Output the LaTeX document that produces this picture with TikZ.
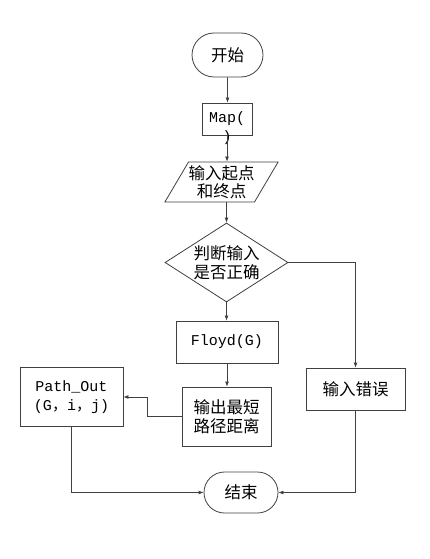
\documentclass[tikz,border=0pt]{standalone}
\usepackage{fontspec}
\setmonofont{Liberation Mono}
\newfontfamily\zhfont{Noto Sans CJK SC}
\usetikzlibrary{arrows.meta, shapes.geometric, shapes.misc}
\newcommand{\zhcomma}{{\zhfont ，}}

\begin{document}
\begin{tikzpicture}[x=1pt, y=-1pt,
		line width=0.8pt, draw=black!75,
		box/.style={draw=black!75, fill=white, rectangle, inner sep=0pt, align=center, font=\fontsize{15}{19}\selectfont},
		term/.style={draw=black!75, rounded rectangle, inner sep=0pt, font=\fontsize{16.5}{19}\selectfont\zhfont},
		flow/.style={draw=black!75, -{Latex[length=5pt, width=4pt]}}]
		\useasboundingbox (0, 0) rectangle (430, 559);
		\node[term, minimum width=71pt, minimum height=44pt] (start) at (227.5, 55) {开始};
		\node[box, minimum width=50pt, minimum height=32pt, font=\fontsize{15}{19}\selectfont\ttfamily,
			label={[inner sep=0pt, anchor=center, label distance=2pt, font=\fontsize{15}{19}\selectfont\ttfamily]below:)}] (map) at (227, 119) {Map(};
		\node[box, trapezium, trapezium left angle=55, trapezium right angle=125, trapezium stretches=true,
			minimum width=113pt, minimum height=40pt, font=\fontsize{16.5}{18.5}\selectfont\zhfont] (input) at (221.5, 182) {输入起点\\和终点};
		\node[box, diamond, aspect=1.6, minimum width=123pt, minimum height=79pt, font=\fontsize{16.5}{19}\selectfont\zhfont] (judge) at (226.5, 262.5) {判断输入\\是否正确};
		\node[box, minimum width=102pt, minimum height=42pt, font=\fontsize{15}{19}\selectfont\ttfamily] (floyd) at (227, 342) {Floyd(G)};
		\node[box, minimum width=89pt, minimum height=59pt, font=\fontsize{16.5}{19.5}\selectfont\zhfont] (outp) at (226.5, 416.5) {输出最短\\路径距离};
		\node[box, minimum width=103pt, minimum height=59pt, font=\fontsize{15}{19}\selectfont\ttfamily] (path) at (71.5, 397) {Path\_Out\\(G\zhcomma i\zhcomma j)};
		\node[box, minimum width=99pt, minimum height=42pt, font=\fontsize{16.5}{19}\selectfont\zhfont] (err) at (355.5, 389) {输入错误};
		\node[term, minimum width=74pt, minimum height=41pt] (end) at (241, 492.5) {结束};
		\draw[flow] (start) -- (start |- map.north);
		\draw[flow] (map.south) -- (map.south |- input.north);
		\draw[flow] (judge.north |- input.south) -- (judge.north);
		\draw[flow] (judge.south) -- (judge.south |- floyd.north);
		\draw[flow] (judge.east) -| (err.north);
		\draw[flow] (floyd.south) -- (floyd.south |- outp.north);
		\draw[flow] (outp.west) -- ++(-34, 0) |- (path.east);
		\draw[flow] (path.south) |- (end.west);
		\draw[flow] (err.south) |- (end.east);
\end{tikzpicture}
\end{document}
